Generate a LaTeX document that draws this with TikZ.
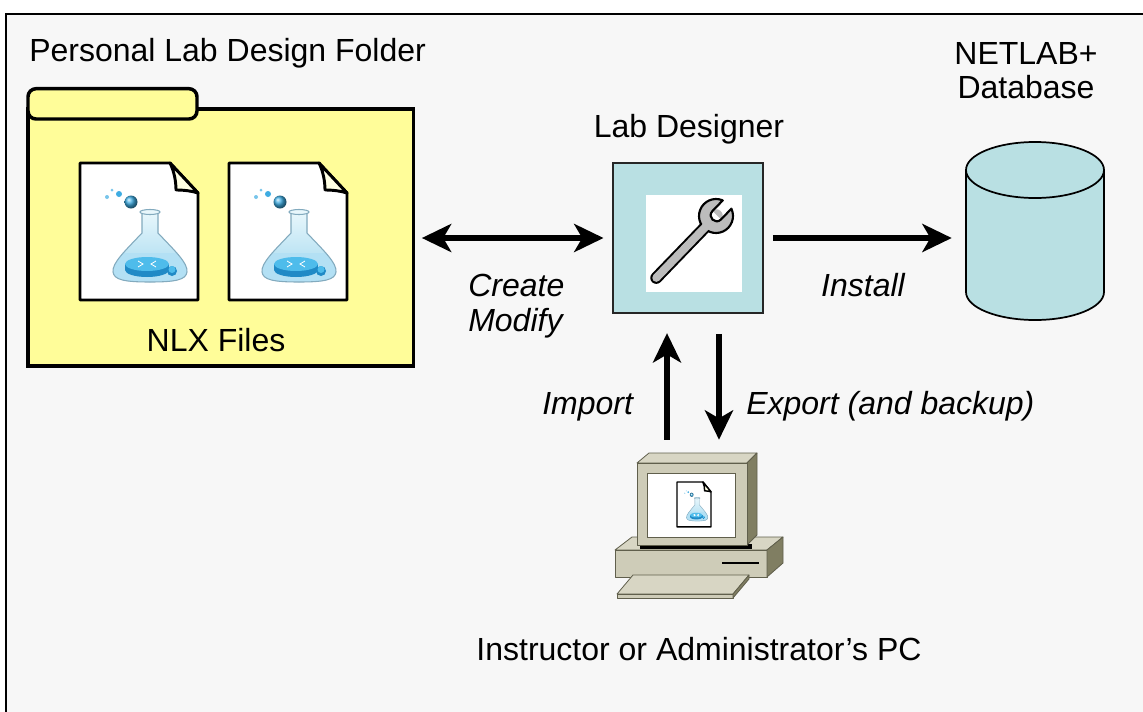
\documentclass[tikz,border=0pt]{standalone}
\usepackage{fontspec}
\setmainfont{Liberation Sans}
\usetikzlibrary{arrows.meta}

\definecolor{pagebg}{RGB}{247,247,247}
\definecolor{folderfill}{RGB}{255,253,153}
\definecolor{dbteal}{RGB}{185,224,227}
\definecolor{pcfront}{RGB}{206,204,184}
\definecolor{pctop}{RGB}{216,214,196}
\definecolor{pcside}{RGB}{128,126,98}
\definecolor{pcedge}{RGB}{96,95,76}
\definecolor{wrenchgray}{RGB}{188,188,188}
\definecolor{flasktop}{RGB}{232,247,252}
\definecolor{flaskbot}{RGB}{160,215,238}
\definecolor{flaskedge}{RGB}{130,170,190}
\definecolor{liquid}{RGB}{128,203,236}
\definecolor{routertop}{RGB}{78,188,235}
\definecolor{routerside}{RGB}{32,138,198}
\definecolor{bubble}{RGB}{62,172,226}
\definecolor{foldfill}{RGB}{255,255,228}

% outline of the flask, in page-local units
\newcommand\flaskpath{(62,49) -- (62,70) .. controls (45,88) and (32,100) .. (33,109) .. controls (34,117) and (45,119) .. (70,119) .. controls (95,119) and (106,117) .. (107,109) .. controls (108,100) and (95,88) .. (78,70) -- (78,49) -- cycle}

\tikzset{
  lbl/.style={font=\fontsize{24}{28}\selectfont, inner sep=0pt},
  ilbl/.style={lbl, font=\fontsize{24}{28}\selectfont\itshape},
  tip/.style={Stealth[length=22pt,width=21pt,inset=6pt]},
  arr/.style={line width=4.2pt, -{Stealth[length=22pt,width=21pt,inset=6pt]}},
  dblarr/.style={line width=4.2pt, {Stealth[length=22pt,width=21pt,inset=6pt]}-{Stealth[length=22pt,width=21pt,inset=6pt]}},
  docline/.style={line width=2.2pt},
  flaskline/.style={draw=flaskedge, line width=0.8pt},
  pcline/.style={draw=pcedge, line width=0.6pt, line join=round},
  nlxdoc/.pic={
    % page with folded corner
    \draw[docline, fill=white, line join=round] (0,0) -- (90,0) -- (118,30) -- (118,137) -- (0,137) -- cycle;
    \draw[docline, fill=foldfill, line join=round] (90,0) .. controls (94,8) and (96,18) .. (96,27) .. controls (104,27) and (112,28) .. (118,30) -- cycle;
    % bubbles
    \fill[bubble!70] (27,34) circle[radius=2] (32,27) circle[radius=1.5];
    \fill[bubble] (39,31) circle[radius=3];
    \shade[ball color=bubble] (51,39) circle[radius=6.5];
    % flask with liquid
    \path[top color=flasktop, bottom color=flaskbot] \flaskpath;
    \begin{scope}
      \clip \flaskpath;
      \fill[liquid!60] (20,90) rectangle (120,125);
    \end{scope}
    \draw[flaskline] \flaskpath;
    \draw[flaskline, fill=flasktop] (70,49) ellipse [x radius=10, y radius=2.5];
    % router disk
    \fill[routerside] (67,107) ellipse [x radius=22, y radius=7];
    \fill[routerside] (45,101) rectangle (89,107);
    \fill[routertop] (67,101) ellipse [x radius=22, y radius=7];
    \draw[white, line width=0.6pt] (58,98) -- (63,101) -- (58,104) (76,98) -- (71,101) -- (76,104);
    \fill[routerside] (92,108) circle[radius=5];
    \fill[routertop] (92,106.5) circle[radius=3.5];
  }
}

\begin{document}
\begin{tikzpicture}[x=0.75pt, y=-0.75pt]
\useasboundingbox (0,0) rectangle (1143,711);
\clip (0,0) rectangle (1143,711);
\fill[white] (0,0) rectangle (1143,711);
\draw[line width=1.8pt, fill=pagebg] (6,14) rectangle (1160,730);

% ---- personal lab design folder ----
\node[lbl, anchor=base west] (title) at (29,61) {Personal Lab Design Folder};
\node[draw, line width=2.6pt, fill=folderfill, minimum width=289pt, minimum height=192.75pt, inner sep=0pt] (folder) at (220.8,237.5) {};
\draw[line width=2.6pt, fill=folderfill, rounded corners=6pt] (28,88.7) rectangle (197,119);
\pic at (80,163) {nlxdoc};
\pic at (229,163) {nlxdoc};
\node[lbl, anchor=base] (nlx) at (216,351) {NLX Files};

% ---- lab designer ----
\node[lbl, anchor=base] (designertitle) at (689,137) {Lab Designer};
\node[draw=black!85, line width=1.2pt, fill=dbteal, minimum size=112.5pt, inner sep=0pt] (designer) at (688,238) {};
\fill[white] (646,195) rectangle (742,292);
\begin{scope}[shift={(716,216)}, rotate=46]
  \draw[line width=9pt, line cap=round] (-86,0) -- (-12,0);
  \draw[line width=1.6pt, fill=wrenchgray] (0,0) circle[radius=17];
  \draw[line width=6pt, wrenchgray, line cap=round] (-86,0) -- (-10,0);
  \fill[white] (1,0) circle[radius=6] (1,-6) rectangle (22,6);
  \begin{scope}
    \clip (0,0) circle[radius=17.6];
    \draw[line width=1.6pt] (22,-6) -- (1,-6) .. controls (-7,-6) and (-7,6) .. (1,6) -- (22,6);
  \end{scope}
\end{scope}

% ---- database ----
\node[lbl, anchor=base] (dbtitle) at (1026,64) {NETLAB+};
\node[lbl, anchor=base] (dbtitlesub) at (1026,98) {Database};
\filldraw[fill=dbteal, line width=1.3pt] (1035,292) ellipse [x radius=69, y radius=28];
\fill[dbteal] (966,170) rectangle (1104,292);
\draw[line width=1.3pt] (966,170) -- (966,292) (1104,170) -- (1104,292);
\filldraw[fill=dbteal, line width=1.3pt] (1035,170) ellipse [x radius=69, y radius=28];
\node[inner sep=0pt, minimum width=103.5pt, minimum height=133.5pt] (db) at (1035,231) {};

% ---- instructor PC ----
% base unit
\filldraw[pcline, fill=pctop] (615,550) -- (632,537) -- (783,537) -- (767,550) -- cycle;
\filldraw[pcline, fill=pcfront] (615,550) rectangle (767,577);
\filldraw[pcline, fill=pcside] (767,550) -- (783,537) -- (783,563) -- (767,577) -- cycle;
\draw[line width=1.6pt] (722,563) -- (759,563);
% monitor
\fill[black] (640,544) rectangle (752,549);
\filldraw[pcline, fill=pctop] (637,463) -- (649,453) -- (757,453) -- (747,463) -- cycle;
\filldraw[pcline, fill=pcside] (747,463) -- (757,453) -- (757,535) -- (747,545) -- cycle;
\filldraw[pcline, fill=pcfront] (637,463) rectangle (747,545);
\filldraw[draw=pcedge, line width=0.6pt, fill=white] (647,473) rectangle (735,537);
\pic[xscale=0.288, yscale=0.328, docline/.style={line width=1.1pt}, flaskline/.style={draw=flaskedge, line width=0.3pt}] at (677,482) {nlxdoc};
% keyboard
\filldraw[pcline, fill=pctop] (633,575) -- (749,575) -- (733,594) -- (617,594) -- cycle;
\filldraw[pcline, fill=pcfront] (617,594) rectangle (733,598);
\filldraw[pcline, fill=pcside] (733,594) -- (749,575) -- (749,579) -- (733,598) -- cycle;
\node[inner sep=0pt, minimum width=126pt, minimum height=108.75pt] (pc) at (699,525.5) {};
\node[lbl, anchor=base] (pclabel) at (699,660) {Instructor or Administrator’s PC};

% ---- connectors ----
\coordinate (impx) at (667,0);
\coordinate (expx) at (719,0);
\draw[dblarr, shorten <=5pt, shorten >=6.5pt] (folder.east |- designer.west) -- (designer.west);
\draw[arr, shorten <=6.75pt, shorten >=10.5pt] (designer.east) -- (designer.east -| db.west);
\draw[arr, shorten <=9.75pt, shorten >=14.5pt] (pc.north -| impx) -- (designer.south -| impx);
\draw[arr, shorten <=15pt, shorten >=9.75pt] (designer.south -| expx) -- (pc.north -| expx);

% ---- connector labels ----
\node[ilbl, anchor=base west] (createlabel) at (468,296) {Create};
\node[ilbl, anchor=base west] (modifylabel) at (468,331) {Modify};
\node[ilbl, anchor=base] (installlabel) at (863,296) {Install};
\node[ilbl, anchor=base west] (importlabel) at (542,414) {Import};
\node[ilbl, anchor=base west] (exportlabel) at (746,414) {Export (and backup)};
\end{tikzpicture}
\end{document}
